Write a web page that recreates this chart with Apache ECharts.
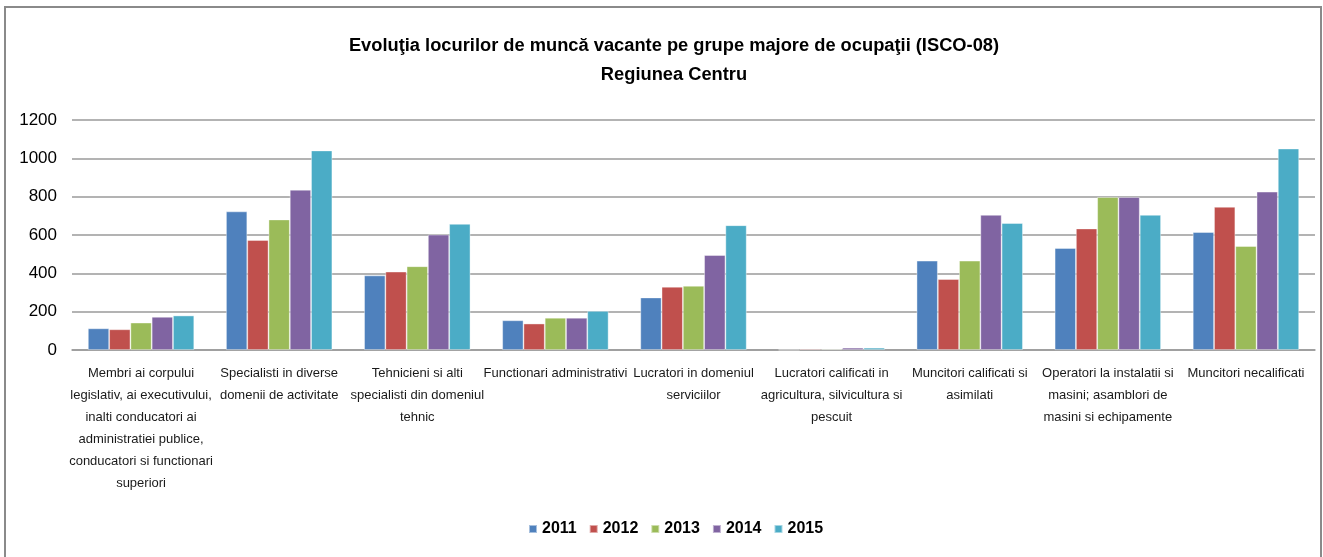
<!DOCTYPE html>
<html>
<head>
<meta charset="utf-8">
<script src="https://cdn.jsdelivr.net/npm/echarts@6/dist/echarts.min.js"></script>
<style>
	html, body { margin: 0; padding: 0; background: #fff; }
	#chart { position: absolute; left: 0; top: 0; width: 1323px; height: 557px; }
	#frame { position: absolute; left: 4px; top: 6px; width: 1314px; height: 560px;
		border: 2px solid #8a8a8a; border-bottom: none; pointer-events: none; }
</style>
</head>
<body>
<div id="chart"></div>
<div id="frame"></div>
<script>
	var categories = [
		'Membri ai corpului\nlegislativ, ai executivului,\ninalti conducatori ai\nadministratiei publice,\nconducatori si functionari\nsuperiori',
		'Specialisti in diverse\ndomenii de activitate',
		'Tehnicieni si alti\nspecialisti din domeniul\ntehnic',
		'Functionari administrativi',
		'Lucratori in domeniul\nserviciilor',
		'Lucratori calificati in\nagricultura, silvicultura si\npescuit',
		'Muncitori calificati si\nasimilati',
		'Operatori la instalatii si\nmasini; asamblori de\nmasini si echipamente',
		'Muncitori necalificati'
	];
	var years = ['2011', '2012', '2013', '2014', '2015'];
	var v2011 = [113, 723, 389, 155, 274, 1, 466, 532, 615];
	var v2012 = [108, 574, 409, 138, 330, 6, 370, 634, 747];
	var v2013 = [143, 681, 437, 168, 335, 5, 466, 798, 542];
	var v2014 = [173, 836, 602, 168, 495, 12, 705, 798, 826];
	var v2015 = [180, 1041, 658, 204, 651, 12, 662, 705, 1051];
	var colors = ['#4F81BD', '#C0504D', '#9BBB59', '#8064A2', '#4BACC6'];

	var font = "'Liberation Sans Narrow', 'Arial Narrow', 'Liberation Sans', sans-serif";
	var values = [v2011, v2012, v2013, v2014, v2015];
	var series = [];
	for (var i = 0; i < years.length; i++) {
		series.push({
			name: years[i],
			type: 'bar',
			data: values[i],
			barGap: '0%',
			barCategoryGap: '23%',
			itemStyle: { color: colors[i], borderColor: 'rgba(255,255,255,0.5)', borderWidth: 0.8 }
		});
	}

	var myChart = echarts.init(document.getElementById('chart'));
	myChart.setOption({
		animation: false,
		color: colors,
		title: {
			text: 'Evoluţia locurilor de muncă vacante pe grupe majore de ocupaţii (ISCO-08)\nRegiunea Centru',
			left: 669,
			textAlign: 'center',
			top: 26,
			textStyle: { fontFamily: font, fontSize: 18.3, fontWeight: 'bold', color: '#000', lineHeight: 29 }
		},
		legend: {
			data: years,
			bottom: 15,
			left: 523,
			icon: 'rect',
			itemWidth: 8,
			itemHeight: 8,
			itemGap: 12,
			textStyle: { fontFamily: font, fontSize: 16, fontWeight: 'bold', color: '#000' }
		},
		grid: { left: 72, right: 8, top: 120, bottom: 207 },
		xAxis: {
			type: 'category',
			data: categories,
			axisTick: { show: false },
			axisLine: { lineStyle: { color: '#9a9a9a', width: 1.5 } },
			axisLabel: { interval: 0, margin: 12, fontFamily: font, fontSize: 13, lineHeight: 22, color: '#1a1a1a' }
		},
		yAxis: {
			type: 'value',
			min: 0,
			max: 1200,
			interval: 200,
			axisLine: { show: false },
			axisTick: { show: false },
			splitLine: { lineStyle: { color: '#9a9a9a', width: 1.5 } },
			axisLabel: {
				margin: 15, fontFamily: font, fontSize: 17, color: '#000',
				formatter: function (v) { return String(v); }
			}
		},
		series: series
	});
</script>
</body>
</html>
